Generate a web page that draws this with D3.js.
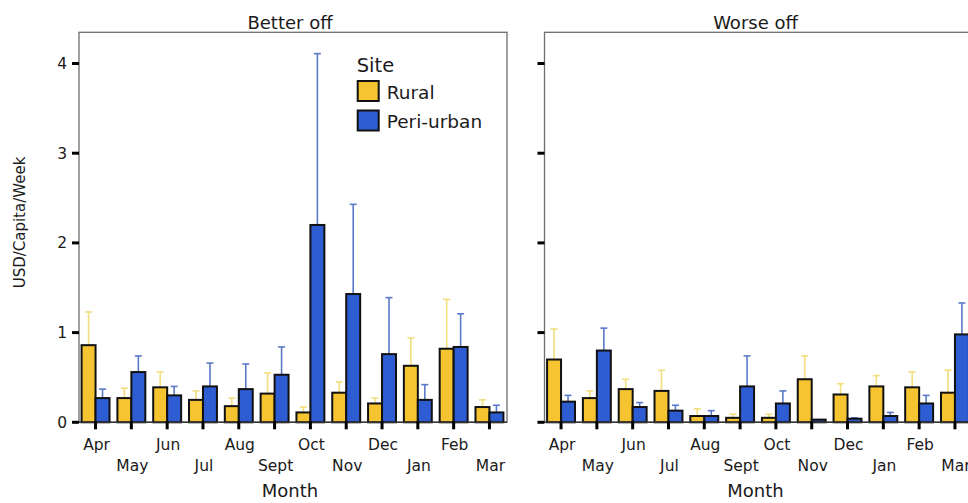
<!DOCTYPE html>
<html>
<head>
<meta charset="utf-8">
<script src="https://cdn.jsdelivr.net/npm/d3@7"></script>
<style>
  html, body { margin: 0; padding: 0; background: #fff; }
  svg { display: block; }
  text { font-family: "DejaVu Sans", Arial, sans-serif; fill: #1a1a1a; }
</style>
</head>
<body>
<svg id="chart" width="968" height="503"></svg>
<script>
// ---- data ----
const months = ["Apr","May","Jun","Jul","Aug","Sept","Oct","Nov","Dec","Jan","Feb","Mar"];
const sites = ["Rural","Peri-urban"];
const panelTitles = ["Better off","Worse off"];
const yTicks = [0,1,2,3,4];

const betterRural    = [0.86,0.27,0.39,0.25,0.18,0.32,0.11,0.33,0.21,0.63,0.82,0.17];
const betterRuralUp  = [1.23,0.38,0.56,0.35,0.27,0.55,0.17,0.45,0.27,0.94,1.37,0.25];
const betterPeri     = [0.27,0.56,0.30,0.40,0.37,0.53,2.20,1.43,0.76,0.25,0.84,0.11];
const betterPeriUp   = [0.37,0.74,0.40,0.66,0.65,0.84,4.11,2.43,1.39,0.42,1.21,0.19];

const worseRural     = [0.70,0.27,0.37,0.35,0.07,0.05,0.05,0.48,0.31,0.40,0.39,0.33];
const worseRuralUp   = [1.04,0.35,0.48,0.58,0.15,0.09,0.09,0.74,0.43,0.52,0.56,0.58];
const worsePeri      = [0.23,0.80,0.17,0.13,0.07,0.40,0.21,0.03,0.04,0.07,0.21,0.98];
const worsePeriUp    = [0.30,1.05,0.22,0.19,0.13,0.74,0.35,0.03,0.05,0.11,0.30,1.33];

const fillColors = {"Rural": "#f6c430", "Peri-urban": "#2e5cd2"};
const errColors  = {"Rural": "#f2de7c", "Peri-urban": "#5a79c9"};

const panelData = [
  {title: panelTitles[0], series: {"Rural": [betterRural, betterRuralUp], "Peri-urban": [betterPeri, betterPeriUp]}},
  {title: panelTitles[1], series: {"Rural": [worseRural, worseRuralUp], "Peri-urban": [worsePeri, worsePeriUp]}}
];

// ---- layout ----
const svg = d3.select("#chart");
const plotTop = 32.3, plotBottom = 422.3;
const panelW = 428;
const panelX = [79, 544.5];

const y = d3.scaleLinear().domain([0, 4.348]).range([plotBottom, plotTop]);

panelData.forEach((p, pi) => {
  const x0 = panelX[pi];
  const g = svg.append("g");
  const x = d3.scaleBand().domain(months).range([x0 - 1, x0 + panelW])
      .paddingInner(0.22).paddingOuter(0.1);
  const xs = d3.scaleBand().domain(sites).range([0, x.bandwidth()]);

  // frame
  g.append("rect").attr("x", x0).attr("y", plotTop).attr("width", panelW).attr("height", plotBottom - plotTop)
    .attr("fill", "none").attr("stroke", "#6e6e6e").attr("stroke-width", 1.3);

  // title
  g.append("text").attr("x", x0 + panelW / 2 - 3).attr("y", 29)
    .attr("text-anchor", "middle").style("font-size", "18px").text(p.title);

  const rows = [];
  months.forEach((m, i) => sites.forEach(s => {
    rows.push({m, s, v: p.series[s][0][i], up: p.series[s][1][i]});
  }));

  // error bars (behind bars)
  const eg = g.append("g");
  rows.forEach(d => {
    const cx = x(d.m) + xs(d.s) + xs.bandwidth() / 2;
    if (d.up > d.v) {
      eg.append("line").attr("x1", cx).attr("x2", cx).attr("y1", y(d.v)).attr("y2", y(d.up))
        .attr("stroke", errColors[d.s]).attr("stroke-width", 1.6);
      eg.append("line").attr("x1", cx - 3.5).attr("x2", cx + 3.5).attr("y1", y(d.up)).attr("y2", y(d.up))
        .attr("stroke", errColors[d.s]).attr("stroke-width", 1.6);
    }
  });

  // bars
  g.append("g").selectAll("rect").data(rows).join("rect")
    .attr("x", d => x(d.m) + xs(d.s))
    .attr("width", xs.bandwidth())
    .attr("y", d => y(d.v))
    .attr("height", d => Math.max(0, y(0) - y(d.v)))
    .attr("fill", d => fillColors[d.s])
    .attr("stroke", "#111").attr("stroke-width", 2);

  // baseline
  g.append("line").attr("x1", x0).attr("x2", x0 + panelW).attr("y1", plotBottom).attr("y2", plotBottom)
    .attr("stroke", "#333").attr("stroke-width", 1.5);

  // x ticks
  g.append("g").selectAll("line").data(months).join("line")
    .attr("x1", m => x(m) + x.bandwidth() / 2).attr("x2", m => x(m) + x.bandwidth() / 2)
    .attr("y1", plotBottom - 1).attr("y2", plotBottom + 7)
    .attr("stroke", "#000").attr("stroke-width", 3);

  // x tick labels (alternating rows)
  g.append("g").selectAll("text").data(months).join("text")
    .attr("x", m => x(m) + x.bandwidth() / 2 + 1)
    .attr("y", (m, i) => i % 2 === 0 ? 449.5 : 470.5)
    .attr("text-anchor", "middle").style("font-size", "15.5px").text(m => m);

  // x title
  g.append("text").attr("x", x0 + panelW / 2 - 3).attr("y", 497)
    .attr("text-anchor", "middle").style("font-size", "18px").text("Month");

  // y ticks
  g.append("g").selectAll("line").data(yTicks).join("line")
    .attr("x1", x0 - 7).attr("x2", x0)
    .attr("y1", d => y(d)).attr("y2", d => y(d))
    .attr("stroke", "#000").attr("stroke-width", 3);

  if (pi === 0) {
    g.append("g").selectAll("text").data(yTicks).join("text")
      .attr("x", x0 - 12).attr("y", d => y(d)).attr("dy", "0.36em")
      .attr("text-anchor", "end").style("font-size", "15.5px").text(d => d);

    g.append("text")
      .attr("transform", "translate(25,222.5) rotate(-90)")
      .attr("text-anchor", "middle").style("font-size", "15px").text("USD/Capita/Week");

    // legend
    const lg = g.append("g").attr("transform", "translate(356.7,0)");
    lg.append("text").attr("x", 0).attr("y", 71.7).style("font-size", "19.5px").text("Site");
    sites.forEach((s, i) => {
      const by = 81 + i * 29.5;
      lg.append("rect").attr("x", 1).attr("y", by).attr("width", 21).attr("height", 20)
        .attr("fill", fillColors[s]).attr("stroke", "#111").attr("stroke-width", 2);
      lg.append("text").attr("x", 30).attr("y", by + 17.5).style("font-size", "18.5px").text(s);
    });
  }
});
</script>
</body>
</html>
